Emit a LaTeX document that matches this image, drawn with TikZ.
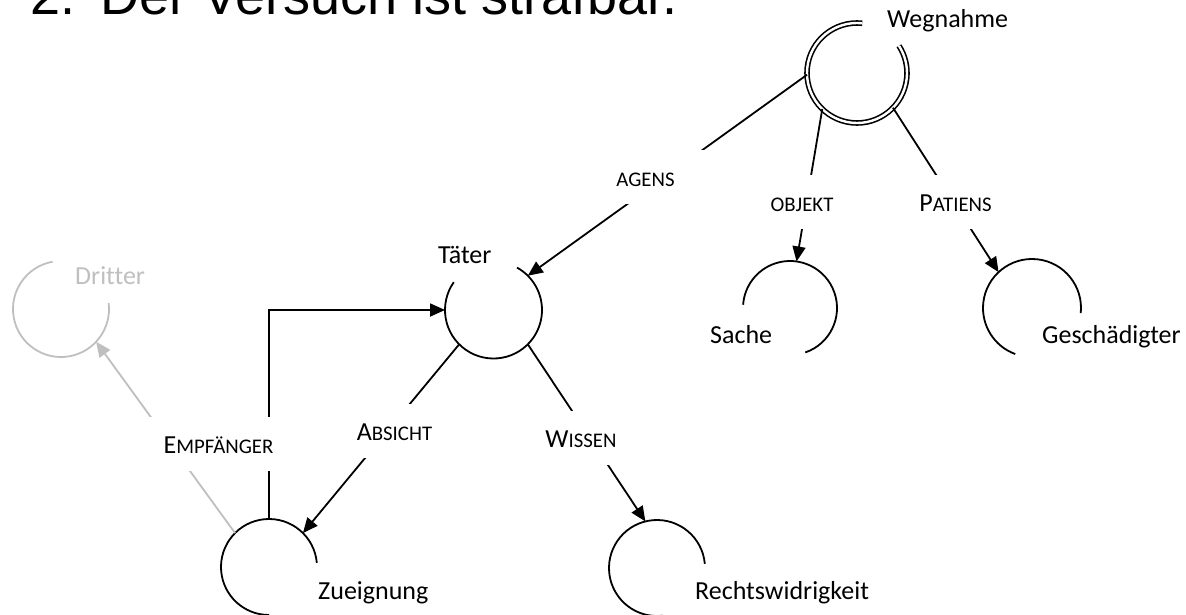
\documentclass[tikz,border=0pt]{standalone}
\usepackage{fontspec}
\setmainfont{Carlito}[Ligatures=NoCommon]
\newfontfamily\titlefont{Liberation Sans}
\usetikzlibrary{arrows.meta}
\definecolor{lightgr}{RGB}{191,191,191}
\newcommand\smallc{\fontsize{20.8pt}{24pt}\selectfont}
\begin{document}
\begin{tikzpicture}[x=1pt,y=1pt,
  font=\fontsize{26pt}{31pt}\selectfont,
  ring/.style={circle, inner sep=0pt, outer sep=0pt, minimum size=#1},
  arcline/.style={line width=1.8pt},
  conn/.style={line width=1.8pt, -{Triangle[length=15pt,width=13pt]}},
  lab/.style={fill=white, inner sep=0pt, minimum width=120pt, minimum height=54pt, text height=19pt, text depth=0pt},
  txt/.style={inner sep=0pt, anchor=base west},
  titletxt/.style={inner sep=0pt, anchor=base west, font=\titlefont\fontsize{54pt}{60pt}\selectfont}]
\useasboundingbox (0,0) rectangle (1186,-615);

% title (cut off at the top)
\node[titletxt] (t1) at (30,-15) {2.};
\node[titletxt] (t2) at (100.7,-15) {Der Versuch ist strafbar.};

% concept nodes
\node[ring=100pt] (weg) at (857,-73) {};
\node[ring=97pt] (tae) at (493.5,-310) {};
\node[ring=94pt] (sac) at (790,-308) {};
\node[ring=98pt] (ges) at (1032,-308) {};
\node[ring=96pt] (zue) at (269,-567) {};
\node[ring=96pt] (rec) at (657,-568) {};
\node[ring=96pt] (dri) at (61,-309) {};

% open circles
\draw[double, line width=1.6pt, double distance=2.4pt] (weg.84) arc[start angle=84, end angle=393, radius=50pt];
\draw[arcline] (tae.145) arc[start angle=145, end angle=421, radius=48.5pt];
\draw[arcline] (sac.-71) arc[start angle=-71, end angle=176, radius=47pt];
\draw[arcline] (ges.-6) arc[start angle=-6, end angle=250, radius=49pt];
\draw[arcline] (zue.5) arc[start angle=5, end angle=270, radius=48pt];
\draw[arcline] (rec.5) arc[start angle=5, end angle=277, radius=48pt];
\draw[arcline, lightgr] (dri.100) arc[start angle=100, end angle=367, radius=48pt];

% connectors
\draw[conn] (weg.182) -- (tae.45);
\draw[conn] (weg.226) -- (sac.82);
\draw[conn] (weg.-44) -- (ges.133);
\draw[conn] (tae.-45) -- (rec.104);
\draw[conn] (tae.225) -- (zue.45);
\draw[conn] (zue.north) |- (tae.west);
\draw[conn, draw=lightgr, fill=lightgr] (zue.135) -- (dri.-43);

% connector labels
\node[lab] (lagens) at (645.5,-177) {{\smallc AGENS}};
\node[lab] (lobj) at (802,-201.5) {{\smallc OBJEKT}};
\node[lab] (lpat) at (955.5,-201.5) {P{\smallc ATIENS}};
\node[lab] (lwis) at (581,-437.5) {W{\smallc ISSEN}};
\node[lab] (labs) at (394.5,-431) {A{\smallc BSICHT}};
\node[lab, minimum width=140pt] (lemp) at (218.5,-443.5) {E{\smallc MPFÄNGER}};

% node texts
\node[txt] (tweg) at (887,-28) {Wegnahme};
\node[txt] (ttae) at (438,-263) {Täter};
\node[txt] (tsac) at (710,-343.5) {Sache};
\node[txt] (tges) at (1042,-343.5) {Geschädigter};
\node[txt] (tzue) at (318,-599) {Zueignung};
\node[txt] (trec) at (695,-599) {Rechtswidrigkeit};
\node[txt, text=lightgr] (tdri) at (75,-284) {Dritter};
\end{tikzpicture}
\end{document}
